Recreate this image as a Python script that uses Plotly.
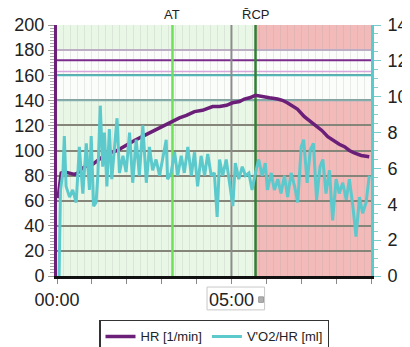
import plotly.graph_objects as go

# ---------------- data ----------------
hr_t = [0.03, 0.07, 0.12, 0.21, 0.36, 0.50, 0.59, 0.73, 0.87, 1.02, 1.16, 1.30, 1.45, 1.62, 1.73,
        1.85, 2.02, 2.22, 2.51, 2.79, 3.08, 3.31, 3.51, 3.71, 3.94, 4.17, 4.46, 4.66, 4.86, 5.03,
        5.23, 5.37, 5.52, 5.69, 5.86, 6.09, 6.32, 6.46, 6.60, 6.75, 6.89, 7.09, 7.26, 7.41, 7.59,
        7.76, 7.96, 8.09, 8.24, 8.38, 8.52, 8.72, 8.95]
hr_vals = [62, 72, 82, 83, 82, 81, 82, 86, 88, 89, 92, 95, 98, 99, 100,
           102, 105, 108, 112, 116, 120, 123, 126, 128, 131, 132, 135, 135, 136, 138,
           139, 141, 142, 144, 143, 142, 141, 140, 138, 135, 133, 127, 123, 120, 116,
           111, 107, 105, 103, 100, 98, 96, 95]

o2_t = [0.06, 0.10, 0.17, 0.21, 0.26, 0.36, 0.45, 0.55, 0.64, 0.74, 0.84, 0.93, 0.98, 1.05, 1.12,
        1.17, 1.24, 1.31, 1.36, 1.43, 1.50, 1.57, 1.65, 1.72, 1.79, 1.89, 1.98, 2.08, 2.17, 2.27,
        2.36, 2.46, 2.56, 2.65, 2.74, 2.84, 2.94, 3.03, 3.13, 3.17, 3.27, 3.37, 3.46, 3.56, 3.65,
        3.75, 3.85, 3.94, 4.03, 4.13, 4.23, 4.32, 4.42, 4.51, 4.59, 4.66, 4.75, 4.85, 4.94, 5.04,
        5.11, 5.21, 5.31, 5.40, 5.50, 5.59, 5.69, 5.78, 5.88, 5.97, 6.03, 6.14, 6.23, 6.33, 6.42,
        6.52, 6.61, 6.71, 6.81, 6.90, 7.00, 7.07, 7.17, 7.26, 7.35, 7.44, 7.54, 7.62, 7.71, 7.81,
        7.90, 8.00, 8.09, 8.19, 8.29, 8.38, 8.48, 8.57, 8.67, 8.76, 8.86, 8.95]
o2_vals = [0.0, 4.8, 5.8, 7.8, 5.0, 4.4, 4.8, 4.1, 7.2, 4.6, 7.4, 4.8, 7.8, 3.9, 4.1,
           5.6, 9.5, 6.1, 8.0, 5.0, 8.2, 5.4, 7.2, 8.8, 5.75, 6.7, 5.8, 8.0, 5.2, 7.6,
           5.6, 8.4, 5.2, 7.2, 5.9, 6.5, 5.6, 6.5, 7.6, 5.4, 5.75, 6.9, 5.6, 6.7, 5.75,
           7.2, 5.6, 6.9, 5.0, 6.7, 5.6, 6.8, 5.6, 5.75, 3.3, 6.5, 5.6, 6.5, 5.2, 3.9,
           6.3, 5.4, 6.1, 5.6, 5.75, 4.8, 5.75, 6.5, 5.6, 6.3, 4.8, 5.75, 4.8, 5.4, 4.6,
           5.6, 4.4, 5.75, 5.0, 4.1, 7.2, 7.6, 5.2, 7.05, 7.4, 4.25, 6.1, 6.5, 4.6, 5.9,
           3.1, 5.4, 4.6, 5.2, 4.25, 5.4, 3.9, 2.2, 4.4, 3.5, 4.1, 5.6]

x_tick_vals = [0, 1, 2, 3, 4, 5, 6, 7, 8, 9]
x_tick_text = ["00:00", "", "", "", "", "05:00", "", "", "", ""]

series_names = ["HR [1/min]", "V'O2/HR [ml]"]
marker_names = ["AT", "R\u0304CP"]
marker_t = [3.31, 5.69]
cursor_t = 5.0
x_max = 9
hr_levels = [180, 172, 163, 160, 140]

HR_COLOR = "#6b1f78"
O2_COLOR = "#5cc9cc"
FONT = "Liberation Sans, Arial, sans-serif"

fig = go.Figure()
fig.add_trace(go.Scatter(x=hr_t, y=hr_vals, mode="lines", name=series_names[0],
                         line=dict(color=HR_COLOR, width=3.5)))
fig.add_trace(go.Scatter(x=o2_t, y=o2_vals, mode="lines", name=series_names[1], yaxis="y2",
                         line=dict(color=O2_COLOR, width=3)))

shapes = []
# background zones
shapes.append(dict(type="rect", xref="x", yref="y", x0=0, x1=marker_t[1], y0=0, y1=200,
                   fillcolor="#e9f8e6", line=dict(width=0), layer="below"))
shapes.append(dict(type="rect", xref="x", yref="y", x0=marker_t[1], x1=x_max, y0=0, y1=200,
                   fillcolor="#f3baba", line=dict(width=0), layer="below"))
shapes.append(dict(type="rect", xref="x", yref="y", x0=0, x1=x_max, y0=hr_levels[4], y1=hr_levels[0],
                   fillcolor="#fbfdfb", line=dict(width=0), layer="below"))
# horizontal level lines
level_styles = [("#bcaec4", 2), ("#7b2d8c", 2), ("#d6a6dc", 1.5), ("#52b9bb", 2), ("#84aeae", 2)]
for lv, (c, w) in zip(hr_levels, level_styles):
    shapes.append(dict(type="line", xref="x", yref="y", x0=0, x1=x_max, y0=lv, y1=lv,
                       line=dict(color=c, width=w), layer="between"))
# vertical markers
shapes.append(dict(type="line", xref="x", yref="y", x0=marker_t[0], x1=marker_t[0], y0=0, y1=200,
                   line=dict(color="#6fe05a", width=2.5), layer="between"))
shapes.append(dict(type="line", xref="x", yref="y", x0=cursor_t, x1=cursor_t, y0=0, y1=200,
                   line=dict(color="#8c8c8c", width=2), layer="between"))
shapes.append(dict(type="line", xref="x", yref="y", x0=marker_t[1], x1=marker_t[1], y0=0, y1=200,
                   line=dict(color="#2f7f35", width=2.5), layer="between"))
# cursor label box at 05:00
shapes.append(dict(type="rect", xref="x", yref="paper", x0=4.3, x1=5.95, y0=-0.135, y1=-0.044,
                   line=dict(color="#c8c8c8", width=1), fillcolor="rgba(0,0,0,0)"))
shapes.append(dict(type="rect", xref="x", yref="paper", x0=5.78, x1=5.92, y0=-0.105, y1=-0.083,
                   line=dict(color="#9a9a9a", width=1), fillcolor="#b0b0b0"))

annotations = []
for name, t in zip(marker_names, marker_t):
    annotations.append(dict(x=t, y=1, xref="x", yref="paper", text=name, showarrow=False,
                            yanchor="bottom", yshift=1, font=dict(size=13, color="#222", family=FONT)))

# the page body adds an 8px offset, so the figure is sized to fit the 410x347 window
fig.update_layout(
    width=402, height=339,
    margin=dict(l=49, r=39, t=17, b=71, autoexpand=False),
    paper_bgcolor="white", plot_bgcolor="white",
    font=dict(family=FONT, color="#222"),
    shapes=shapes, annotations=annotations,
    showlegend=True,
    legend=dict(orientation="h", x=0.5, xanchor="center", y=-0.175, yanchor="top",
                bordercolor="#333", borderwidth=1.5, bgcolor="white",
                font=dict(size=13, color="#222", family=FONT), tracegroupgap=0,
                itemwidth=30),
    xaxis=dict(range=[0, x_max], tickvals=x_tick_vals, ticktext=x_tick_text,
               showgrid=False, zeroline=False, showline=True, linecolor="#111", linewidth=3,
               ticks="outside", ticklen=5, tickcolor="#888", tickwidth=1,
               ticklabelstandoff=0, automargin=False,
               tickfont=dict(size=18, color="#222", family=FONT),
               minor=dict(dtick=0.2, showgrid=True, gridcolor="rgba(160,160,160,0.2)",
                          gridwidth=1, ticks="")),
    yaxis=dict(range=[0, 200], dtick=20, showgrid=True, gridcolor="#85857a", gridwidth=1.5,
               zeroline=False, showline=True, linecolor=HR_COLOR, linewidth=3,
               ticks="outside", ticklen=6, tickcolor="#999", tickwidth=1,
               ticklabelstandoff=0, automargin=False,
               tickfont=dict(size=18, color="#222", family=FONT),
               minor=dict(dtick=2.5, ticks="outside", ticklen=4, tickcolor="#aaa", showgrid=False)),
    yaxis2=dict(range=[0, 14], dtick=2, overlaying="y", side="right", showgrid=False,
                zeroline=False, showline=True, linecolor=O2_COLOR, linewidth=3,
                ticks="outside", ticklen=7, tickcolor="#7cc", tickwidth=1,
                ticklabelstandoff=3, automargin=False,
                tickfont=dict(size=18, color="#222", family=FONT),
                minor=dict(dtick=0.5, ticks="outside", ticklen=4, tickcolor="#8cc")),
)

fig.write_html("out.html")
